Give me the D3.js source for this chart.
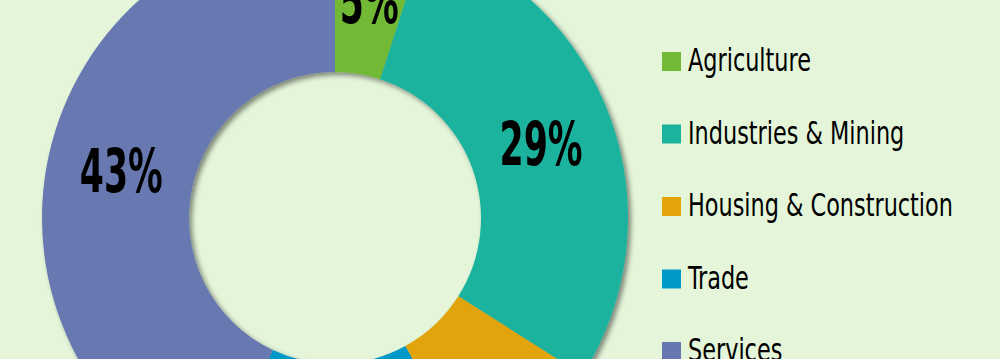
<!DOCTYPE html>
<html lang="en">
<head>
<meta charset="UTF-8">
<title>Sector shares donut</title>
<script src="https://d3js.org/d3.v7.min.js"></script>
<style>
  html, body { margin: 0; padding: 0; background: #e4f5d9; }
  svg { display: block; }
  .lbl { font-family: "DejaVu Sans Condensed", "DejaVu Sans", sans-serif; font-weight: bold; fill: #000; }
  .leg { font-family: "DejaVu Sans Condensed", "DejaVu Sans", sans-serif; fill: #000; }
</style>
</head>
<body>
<div id="chart"></div>
<script>
  // data
  const sectors = ["Agriculture", "Industries & Mining", "Housing & Construction", "Trade", "Services"];
  const shares = [5, 29, 8, 15, 43];
  const colors = ["#72b935", "#1bb39e", "#e2a40a", "#0099c7", "#6778b0"];
  // only these slices carry a visible label in the picture
  const labelled = ["Agriculture", "Industries & Mining", "Services"];

  const width = 1000, height = 359;
  const cx = 335, cy = 218;
  const rOuter = 293, rInner = 146;

  const svg = d3.select("#chart").append("svg")
    .attr("width", width)
    .attr("height", height);

  svg.append("rect").attr("width", width).attr("height", height).attr("fill", "#e4f5d9");

  // soft shadow down-right
  const defs = svg.append("defs");
  const f = defs.append("filter").attr("id", "shadow")
    .attr("x", "-20%").attr("y", "-20%").attr("width", "140%").attr("height", "140%");
  f.append("feDropShadow")
    .attr("dx", 3).attr("dy", 3).attr("stdDeviation", 2.5)
    .attr("flood-color", "#000").attr("flood-opacity", 0.45);

  const data = sectors.map((s, i) => ({ name: s, value: shares[i], color: colors[i] }));

  const pie = d3.pie().value(d => d.value).sort(null);
  const arc = d3.arc().innerRadius(rInner).outerRadius(rOuter);
  const labelArc = d3.arc().innerRadius(219).outerRadius(219);

  const g = svg.append("g").attr("transform", `translate(${cx},${cy})`);

  g.append("g").attr("filter", "url(#shadow)")
    .selectAll("path")
    .data(pie(data))
    .enter()
    .append("path")
    .attr("d", arc)
    .attr("fill", d => d.data.color);

  const labels = g.selectAll("text.lbl")
    .data(pie(data).filter(d => labelled.includes(d.data.name)))
    .enter()
    .append("text")
    .attr("class", "lbl")
    .attr("text-anchor", "middle")
    .attr("dy", "0.36em")
    .attr("font-size", 60)
    .text(d => d.data.value + "%");

  // squeeze the labels to the narrow look of the original
  let w43 = labels.filter(d => d.data.value === 43).node().getComputedTextLength();
  let sx = 83 / w43;
  labels.attr("transform", d => {
    const c = labelArc.centroid(d);
    return `translate(${c[0]},${c[1]}) scale(${sx},1)`;
  });

  // legend
  const legend = svg.append("g").attr("transform", "translate(662,52)");
  const rows = legend.selectAll("g")
    .data(data)
    .enter()
    .append("g")
    .attr("transform", (d, i) => `translate(0,${i * 72.5})`);

  rows.append("rect")
    .attr("width", 19)
    .attr("height", 19)
    .attr("fill", d => d.color);

  const legText = rows.append("text")
    .attr("class", "leg")
    .attr("y", 19)
    .attr("font-size", 32)
    .text(d => d.name);

  let wAg = legText.filter(d => d.name === "Agriculture").node().getComputedTextLength();
  let lsx = 123 / wAg;
  legText.attr("transform", `translate(26,0) scale(${lsx},1)`);
</script>
</body>
</html>
